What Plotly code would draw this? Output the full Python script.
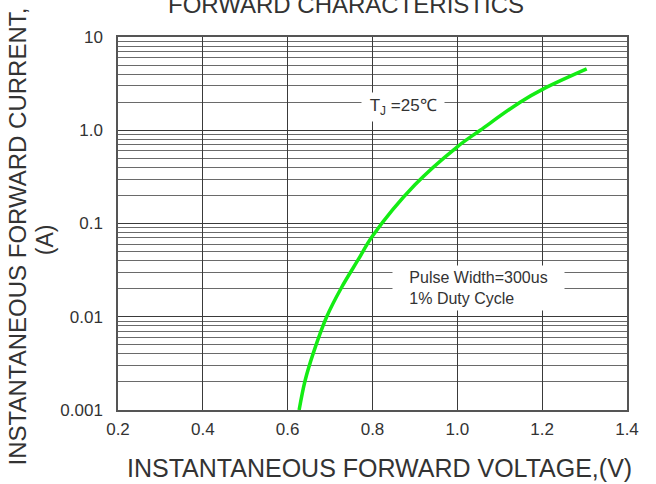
import plotly.graph_objects as go

# Data
voltage = [0.627, 0.641, 0.661, 0.692, 0.727, 0.767, 0.800, 0.900, 1.000, 1.054, 1.148, 1.203, 1.305]
current = [0.001, 0.00206, 0.00415, 0.0100, 0.0206, 0.0414, 0.0734, 0.26, 0.665, 1.0, 2.0, 2.78, 4.55]

x_ticks = [0.2, 0.4, 0.6, 0.8, 1.0, 1.2, 1.4]
x_ticktext = ["0.2", "0.4", "0.6", "0.8", "1.0", "1.2", "1.4"]
y_ticks = [10, 1, 0.1, 0.01, 0.001]
y_ticktext = ["10", "1.0", "0.1", "0.01", "0.001"]
y_minor = [k * 10.0 ** e for e in range(-3, 1) for k in range(2, 10)]

FONT = "Liberation Sans, Arial, sans-serif"
TXT = "#333333"

fig = go.Figure()
fig.add_trace(go.Scatter(
    x=voltage, y=current, mode="lines",
    line=dict(color="#14ec14", width=3.5, shape="spline", smoothing=1.0),
    showlegend=False, hoverinfo="skip",
))

fig.update_layout(
    width=656, height=484,
    margin=dict(l=118, r=29, t=37, b=74),
    paper_bgcolor="white", plot_bgcolor="white",
    font=dict(family=FONT, color=TXT),
    xaxis=dict(
        range=[0.2, 1.4], tickvals=x_ticks, ticktext=x_ticktext,
        showgrid=True, gridcolor="#3a3a3a", gridwidth=1,
        showline=True, linecolor="#555555", linewidth=1.5, mirror=True,
        ticks="outside", ticklen=3, tickcolor="rgba(0,0,0,0)",
        tickfont=dict(size=17, color=TXT, family=FONT), zeroline=False,
    ),
    yaxis=dict(
        type="log", range=[-3, 1], tickvals=y_ticks, ticktext=y_ticktext,
        showgrid=True, gridcolor="#3a3a3a", gridwidth=1,
        minor=dict(tickvals=y_minor, showgrid=True, gridcolor="#6a6a6a", gridwidth=1, ticks=""),
        showline=True, linecolor="#555555", linewidth=1.5, mirror=True,
        ticks="outside", ticklen=10, tickcolor="rgba(0,0,0,0)",
        tickfont=dict(size=17, color=TXT, family=FONT), zeroline=False,
    ),
    annotations=[
        dict(text="FORWARD CHARACTERISTICS", xref="paper", yref="paper",
             x=0.448, y=1.088, xanchor="center", yanchor="middle", showarrow=False,
             font=dict(size=24, color=TXT, family=FONT)),
        dict(text="INSTANTANEOUS FORWARD VOLTAGE,(V)", xref="paper", yref="paper",
             x=0.513, y=-0.155, xanchor="center", yanchor="middle", showarrow=False,
             font=dict(size=25, color=TXT, family=FONT)),
        dict(text="INSTANTANEOUS FORWARD CURRENT,", xref="paper", yref="paper",
             x=-0.198, y=0.466, xanchor="center", yanchor="middle", showarrow=False,
             textangle=-90, font=dict(size=24, color=TXT, family=FONT)),
        dict(text="(A)", xref="paper", yref="paper",
             x=-0.143, y=0.456, xanchor="center", yanchor="middle", showarrow=False,
             textangle=-90, font=dict(size=23, color=TXT, family=FONT)),
        dict(text="&nbsp;T<sub>J</sub> =25\u2103&nbsp;", xref="x", yref="y",
             x=0.872, y=0.245, xanchor="center", yanchor="middle", showarrow=False,
             bgcolor="white", borderpad=3,
             font=dict(size=17, color=TXT, family=FONT)),
        dict(text="&nbsp;&nbsp;&nbsp;Pulse Width=300us&nbsp;&nbsp;&nbsp;<br>&nbsp;&nbsp;&nbsp;1% Duty Cycle",
             xref="x", yref="y", x=0.846, y=-1.694, xanchor="left", yanchor="middle",
             showarrow=False, align="left", bgcolor="white", borderpad=3,
             font=dict(size=16, color=TXT, family=FONT)),
    ],
)
fig.write_html("out.html", config={"displayModeBar": False},
               post_script="document.body.style.margin='0';document.body.style.overflow='hidden';")
